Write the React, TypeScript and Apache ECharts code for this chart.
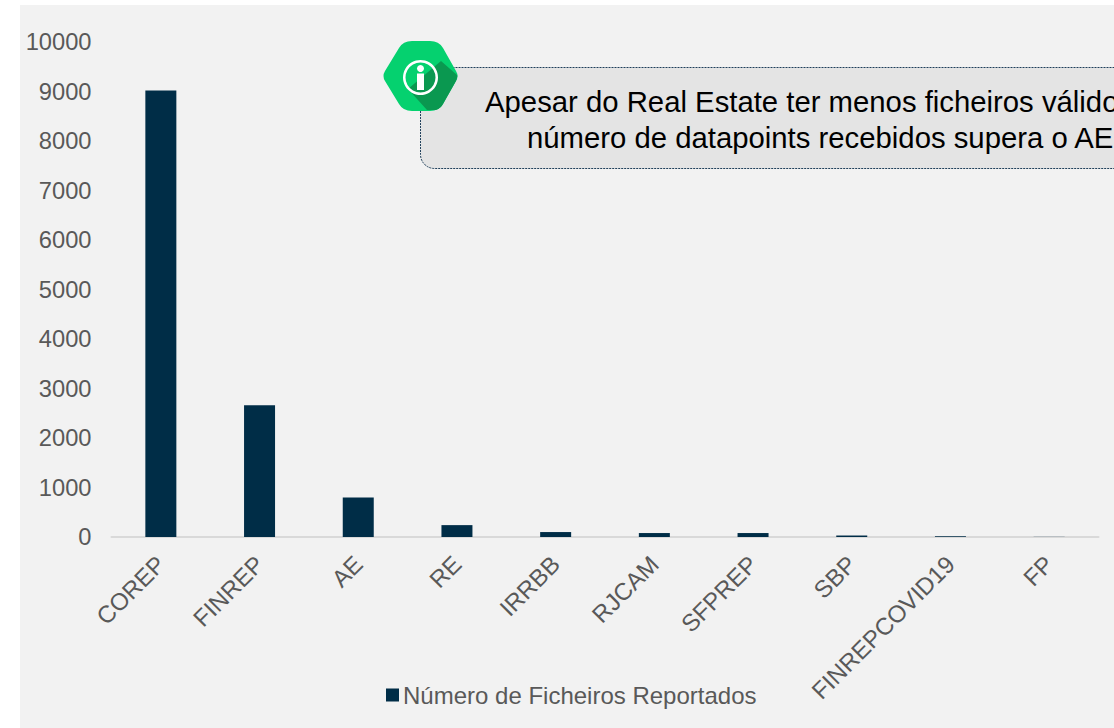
import React, { useEffect, useRef } from "react";
import * as echarts from "echarts";

const categories = ["COREP", "FINREP", "AE", "RE", "IRRBB", "RJCAM", "SFPREP", "SBP", "FINREPCOVID19", "FP"];
const ficheiros = [9020, 2660, 800, 240, 100, 80, 80, 30, 15, 3];
const seriesName = "Número de Ficheiros Reportados";
const calloutLine1 = "Apesar do Real Estate ter menos ficheiros válidos, o";
const calloutLine2 = "número de datapoints recebidos supera o AE.";

const FONT = "'Liberation Sans', Arial, sans-serif";
const hexPath =
  "M412 41 H430 Q439 41 443 48 L456 71 Q459 76 456 81 L443 104 Q439 111 430 111 H412 Q403 111 399 104 L385 81 Q382 76 385 71 L399 48 Q403 41 412 41 Z";
const shadowPath = "M441 61 L457 75 Q458 76 456 81 L443 104 Q441 108 436 110 L427 110 L408 89 Z";

export default function App() {
  const ref = useRef<HTMLDivElement>(null);
  useEffect(() => {
    document.body.style.margin = "0";
    echarts.graphic.registerShape("infoHex", echarts.graphic.extendPath(hexPath, {}));
    echarts.graphic.registerShape("infoShadow", echarts.graphic.extendPath(shadowPath, {}));
    const chart = echarts.init(ref.current!, null, { renderer: "svg" });
    chart.setOption({
      animation: false,
      backgroundColor: "transparent",
      grid: { left: 111.5, top: 42, width: 987, height: 495, containLabel: false },
      legend: {
        left: 386,
        top: 683,
        icon: "rect",
        itemWidth: 13,
        itemHeight: 13,
        itemGap: 0,
        padding: 0,
        textStyle: { fontFamily: FONT, fontSize: 24, color: "#595959", padding: [0, 0, 0, -1] },
        data: [seriesName],
      },
      xAxis: {
        type: "category",
        data: categories,
        axisLine: { lineStyle: { color: "#d9d9d9", width: 2 } },
        axisTick: { show: false },
        axisLabel: {
          interval: 0,
          rotate: 45,
          margin: 23,
          fontFamily: FONT,
          fontSize: 24,
          color: "#595959",
        },
      },
      yAxis: {
        type: "value",
        min: 0,
        max: 10000,
        interval: 1000,
        axisLine: { show: false },
        axisTick: { show: false },
        splitLine: { show: false },
        axisLabel: {
          margin: 20,
          fontFamily: FONT,
          fontSize: 23.7,
          color: "#595959",
          formatter: (v: number) => String(v),
        },
      },
      series: [
        {
          name: seriesName,
          type: "bar",
          data: ficheiros,
          barWidth: 31,
          itemStyle: { color: "#002d47" },
        },
      ],
      graphic: [
        {
          type: "rect",
          shape: { x: 420.5, y: 67.5, width: 760, height: 101, r: 14 },
          style: { fill: "#e4e4e4", stroke: "#1f3f5a", lineWidth: 1, lineDash: [2, 1] },
          z: 10,
        },
        { type: "infoHex", x: 0, y: 0, style: { fill: "#05d16f" }, z: 11 },
        { type: "infoShadow", x: 0, y: 0, style: { fill: "#0a9850" }, z: 12 },
        {
          type: "ring",
          shape: { cx: 420.5, cy: 77.5, r: 17.5, r0: 15 },
          style: { fill: "#ffffff" },
          z: 13,
        },
        { type: "circle", shape: { cx: 420.5, cy: 68.5, r: 3.5 }, style: { fill: "#ffffff" }, z: 13 },
        { type: "rect", shape: { x: 417, y: 73.5, width: 7, height: 16.5 }, style: { fill: "#ffffff" }, z: 13 },
        {
          type: "text",
          x: 485,
          y: 101,
          style: { text: calloutLine1, fontFamily: FONT, fontSize: 29.3, fill: "#000000", textVerticalAlign: "middle" },
          z: 14,
        },
        {
          type: "text",
          x: 527,
          y: 137,
          style: { text: calloutLine2, fontFamily: FONT, fontSize: 29.3, fill: "#000000", textVerticalAlign: "middle" },
          z: 14,
        },
      ],
    });
    return () => chart.dispose();
  }, []);
  return (
    <div style={{ position: "fixed", left: 0, top: 0, width: 1114, height: 728, background: "#ffffff", overflow: "hidden" }}>
      <div style={{ position: "absolute", left: 20, top: 5, width: 1094, height: 723, background: "#f2f2f2" }} />
      <div ref={ref} style={{ position: "absolute", left: 0, top: 0, width: 1114, height: 728 }} />
    </div>
  );
}
